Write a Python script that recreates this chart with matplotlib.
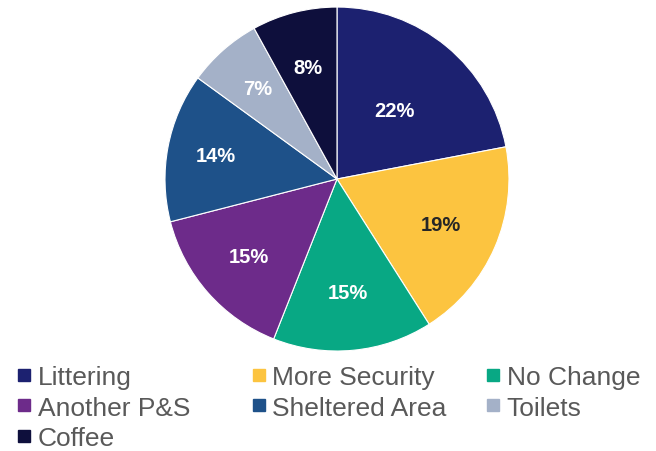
import matplotlib.pyplot as plt
from matplotlib.lines import Line2D
import numpy as np

plt.rcParams['font.family'] = ['Liberation Sans', 'DejaVu Sans']

labels = ["Littering", "More Security", "No Change", "Another P&S",
          "Sheltered Area", "Toilets", "Coffee"]
shares = [22, 19, 15, 15, 14, 7, 8]
colors = ["#1c2170", "#fcc440", "#08a884", "#6d2b8a",
          "#1e5189", "#a4b1c8", "#0e0f3c"]
text_colors = ["white", "#262626", "white", "white", "white", "white", "white"]
# radial position of each percentage label (fraction of radius)
label_dist = [0.52, 0.66, 0.66, 0.68, 0.72, 0.70, 0.67]

fig = plt.figure(figsize=(6.56, 4.52), dpi=100)
ax = fig.add_axes([0.2515, 0.2212, 0.5244, 0.761])

wedges, texts, autotexts = ax.pie(
    shares, colors=colors, startangle=90, counterclock=False,
    autopct=lambda p: f"{p:.0f}%", pctdistance=0.68,
    wedgeprops=dict(edgecolor="white", linewidth=0.8),
    textprops=dict(fontsize=14.5, fontweight="bold"))

for w, t, c, d in zip(wedges, autotexts, text_colors, label_dist):
    ang = np.deg2rad((w.theta1 + w.theta2) / 2)
    t.set_position((d * np.cos(ang), d * np.sin(ang)))
    t.set_color(c)

ax.set_xlim(-1, 1)
ax.set_ylim(-1, 1)
ax.set_aspect("equal")
ax.axis("off")

# three equal-width legend columns, filled row by row
col_left = [0.027, 0.385, 0.742]
for j, x0 in enumerate(col_left):
    idx = list(range(j, len(labels), 3))
    handles = [Line2D([], [], linestyle="none", marker="s", markersize=9,
                      color=colors[i]) for i in idx]
    leg = fig.legend(handles, [labels[i] for i in idx],
                     loc="upper left", bbox_to_anchor=(x0, 0.19),
                     frameon=False, fontsize=19, handlelength=0.5,
                     handletextpad=0.25, labelspacing=0.25,
                     borderpad=0, borderaxespad=0)
    for t in leg.get_texts():
        t.set_color("#595959")

fig.savefig("out.png", dpi=100, facecolor="white")
